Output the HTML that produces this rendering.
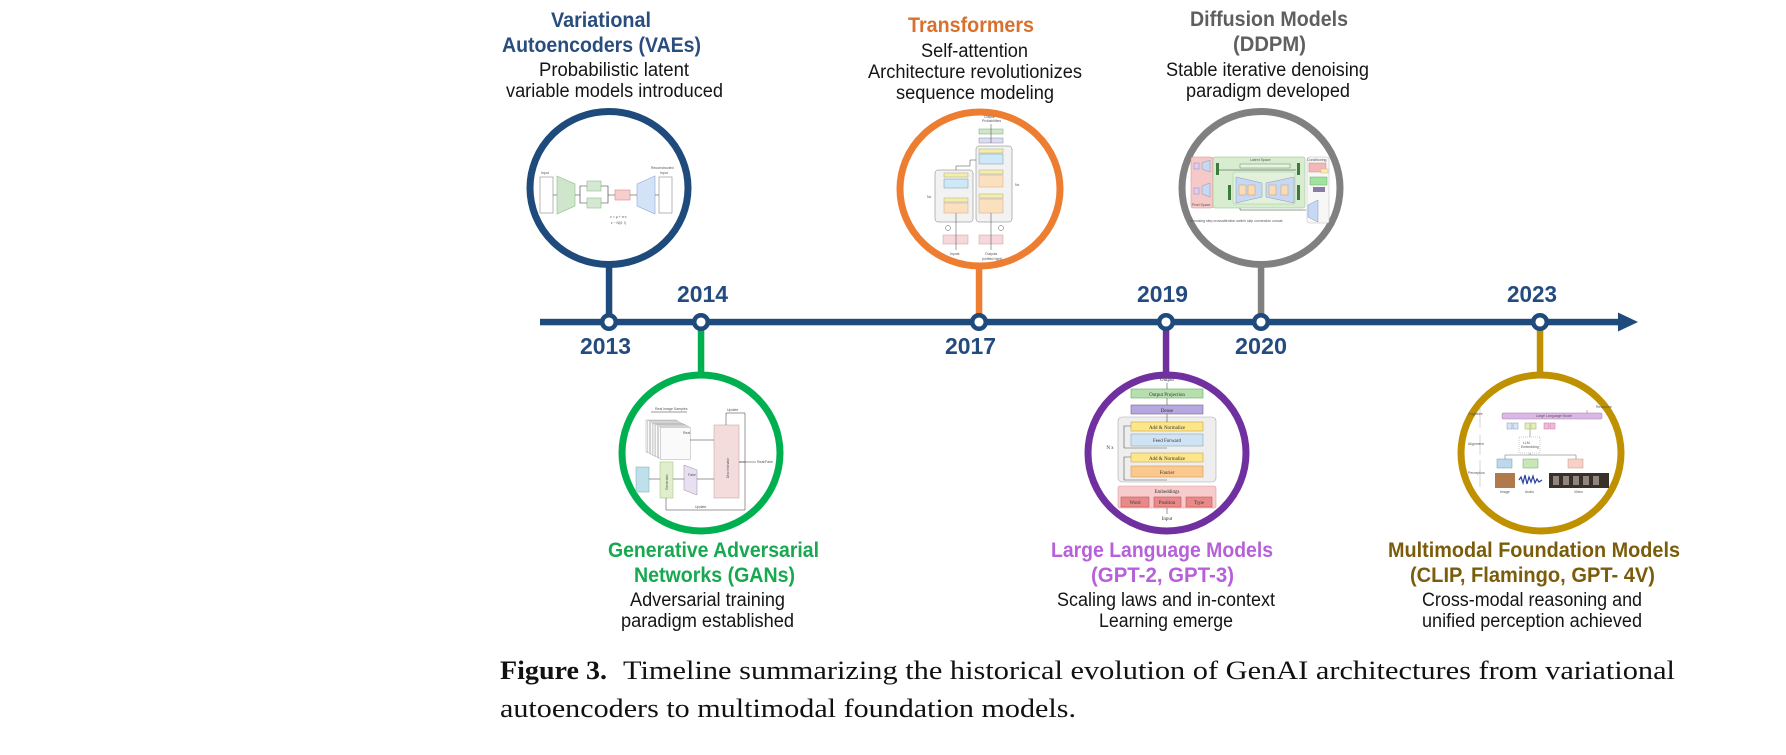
<!DOCTYPE html>
<html><head><meta charset="utf-8">
<style>
html,body{margin:0;padding:0;background:#fff;}
svg{display:block;}
.t{font-family:"Liberation Sans",sans-serif;font-weight:bold;font-size:21px;}
.b{font-family:"Liberation Sans",sans-serif;font-size:19px;fill:#151515;}
.y{font-family:"Liberation Sans",sans-serif;font-weight:bold;font-size:23px;fill:#244b7f;}
.c{font-family:"Liberation Serif",serif;font-size:26px;fill:#111;}
.s{font-family:"Liberation Sans",sans-serif;font-size:3.5px;fill:#555;}
.r{font-family:"Liberation Serif",serif;font-size:5px;fill:#333;text-anchor:middle;}
</style></head><body>
<svg width="1786" height="755" viewBox="0 0 1786 755" xmlns="http://www.w3.org/2000/svg">
<rect width="1786" height="755" fill="#fff"/>

<!-- stems -->
<rect x="605.8" y="255" width="6.5" height="67" fill="#1f4a7c"/>
<rect x="975.8" y="255" width="6.5" height="67" fill="#ed7d31"/>
<rect x="1257.8" y="255" width="6.5" height="67" fill="#808080"/>
<rect x="697.8" y="322" width="6.5" height="60" fill="#00b050"/>
<rect x="1162.8" y="322" width="6.5" height="60" fill="#7030a0"/>
<rect x="1536.8" y="322" width="6.5" height="60" fill="#bf9000"/>

<!-- main timeline -->
<rect x="540" y="318.8" width="1082" height="6.5" fill="#1f4a7c"/>
<polygon points="1618,312.5 1638,322 1618,331.5" fill="#1f4a7c"/>

<!-- circles -->
<ellipse cx="609" cy="188" rx="79" ry="76.5" fill="#fff" stroke="#1f4a7c" stroke-width="7"/>
<ellipse cx="980" cy="189" rx="80" ry="77" fill="#fff" stroke="#ed7d31" stroke-width="7"/>
<ellipse cx="1261" cy="188" rx="79" ry="76.5" fill="#fff" stroke="#808080" stroke-width="7"/>
<ellipse cx="701" cy="453" rx="79" ry="78" fill="#fff" stroke="#00b050" stroke-width="7"/>
<ellipse cx="1167" cy="453" rx="79" ry="78" fill="#fff" stroke="#7030a0" stroke-width="7"/>
<ellipse cx="1541" cy="453" rx="80" ry="78" fill="#fff" stroke="#bf9000" stroke-width="7"/>

<!-- nodes -->
<g fill="#fff" stroke="#1f4a7c" stroke-width="4.5">
<circle cx="609" cy="322" r="6.8"/>
<circle cx="701" cy="322" r="6.8"/>
<circle cx="979" cy="322" r="6.8"/>
<circle cx="1166" cy="322" r="6.8"/>
<circle cx="1261" cy="322" r="6.8"/>
<circle cx="1540" cy="322" r="6.8"/>
</g>

<!-- years -->
<text class="y" x="677" y="302" textLength="51" lengthAdjust="spacingAndGlyphs">2014</text>
<text class="y" x="1137" y="302" textLength="51" lengthAdjust="spacingAndGlyphs">2019</text>
<text class="y" x="1507" y="302" textLength="50" lengthAdjust="spacingAndGlyphs">2023</text>
<text class="y" x="580" y="354" textLength="51" lengthAdjust="spacingAndGlyphs">2013</text>
<text class="y" x="945" y="354" textLength="51" lengthAdjust="spacingAndGlyphs">2017</text>
<text class="y" x="1235" y="354" textLength="52" lengthAdjust="spacingAndGlyphs">2020</text>

<!-- VAE labels -->
<text class="t" fill="#2a4d7f" x="551" y="27" textLength="100" lengthAdjust="spacingAndGlyphs">Variational</text>
<text class="t" fill="#2a4d7f" x="502" y="52" textLength="199" lengthAdjust="spacingAndGlyphs">Autoencoders (VAEs)</text>
<text class="b" x="539" y="76" textLength="150" lengthAdjust="spacingAndGlyphs">Probabilistic latent</text>
<text class="b" x="506" y="97" textLength="217" lengthAdjust="spacingAndGlyphs">variable models introduced</text>

<!-- Transformers labels -->
<text class="t" fill="#d8712e" x="908" y="32" textLength="126" lengthAdjust="spacingAndGlyphs">Transformers</text>
<text class="b" x="921" y="57" textLength="107" lengthAdjust="spacingAndGlyphs">Self-attention</text>
<text class="b" x="868" y="78" textLength="214" lengthAdjust="spacingAndGlyphs">Architecture revolutionizes</text>
<text class="b" x="896" y="99" textLength="158" lengthAdjust="spacingAndGlyphs">sequence modeling</text>

<!-- Diffusion labels -->
<text class="t" fill="#5f5f5f" x="1190" y="26" textLength="158" lengthAdjust="spacingAndGlyphs">Diffusion Models</text>
<text class="t" fill="#5f5f5f" x="1233" y="51" textLength="73" lengthAdjust="spacingAndGlyphs">(DDPM)</text>
<text class="b" x="1166" y="76" textLength="203" lengthAdjust="spacingAndGlyphs">Stable iterative denoising</text>
<text class="b" x="1186" y="97" textLength="164" lengthAdjust="spacingAndGlyphs">paradigm developed</text>

<!-- GAN labels -->
<text class="t" fill="#17a950" x="608" y="557" textLength="211" lengthAdjust="spacingAndGlyphs">Generative Adversarial</text>
<text class="t" fill="#17a950" x="634" y="582" textLength="161" lengthAdjust="spacingAndGlyphs">Networks (GANs)</text>
<text class="b" x="630" y="606" textLength="155" lengthAdjust="spacingAndGlyphs">Adversarial training</text>
<text class="b" x="621" y="627" textLength="173" lengthAdjust="spacingAndGlyphs">paradigm established</text>

<!-- LLM labels -->
<text class="t" fill="#b760d9" x="1051" y="557" textLength="222" lengthAdjust="spacingAndGlyphs">Large Language Models</text>
<text class="t" fill="#b760d9" x="1091" y="582" textLength="143" lengthAdjust="spacingAndGlyphs">(GPT-2, GPT-3)</text>
<text class="b" x="1057" y="606" textLength="218" lengthAdjust="spacingAndGlyphs">Scaling laws and in-context</text>
<text class="b" x="1099" y="627" textLength="134" lengthAdjust="spacingAndGlyphs">Learning emerge</text>

<!-- Multimodal labels -->
<text class="t" fill="#7a5c0a" x="1388" y="557" textLength="292" lengthAdjust="spacingAndGlyphs">Multimodal Foundation Models</text>
<text class="t" fill="#7a5c0a" x="1410" y="582" textLength="245" lengthAdjust="spacingAndGlyphs">(CLIP, Flamingo, GPT- 4V)</text>
<text class="b" x="1422" y="606" textLength="220" lengthAdjust="spacingAndGlyphs">Cross-modal reasoning and</text>
<text class="b" x="1422" y="627" textLength="220" lengthAdjust="spacingAndGlyphs">unified perception achieved</text>

<!-- caption -->
<text class="c" x="500" y="679" font-weight="bold" textLength="107" lengthAdjust="spacingAndGlyphs">Figure 3.</text>
<text class="c" x="623" y="679" textLength="1052" lengthAdjust="spacingAndGlyphs">Timeline summarizing the historical evolution of GenAI architectures from variational</text>
<text class="c" x="500" y="717" textLength="576" lengthAdjust="spacingAndGlyphs">autoencoders to multimodal foundation models.</text>

<!-- VAE inner -->
<g stroke-width="0.6">
<rect x="540" y="177" width="13" height="36" fill="#fff" stroke="#888"/>
<polygon points="557,176 575,184 575,206 557,214" fill="#cfe6cc" stroke="#8cbf87"/>
<rect x="587" y="181" width="14" height="10" fill="#d5e8d4" stroke="#8cbf87"/>
<rect x="587" y="198" width="14" height="10" fill="#d5e8d4" stroke="#8cbf87"/>
<rect x="615" y="190" width="15" height="10" fill="#f8cecc" stroke="#d08a88"/>
<polygon points="637,184 655,176 655,214 637,206" fill="#d4e2f7" stroke="#8fa9d6"/>
<rect x="659" y="177" width="13" height="36" fill="#fff" stroke="#888"/>
<path d="M553 195H557 M575 195H580 V186 H587 M580 195 V203 H587 M601 186 H608 V195 H615 M601 203 H608 V195 M630 195H637 M655 195H659" stroke="#333" fill="none"/>
</g>
<text class="s" x="541" y="174">Input</text>
<text class="s" x="651" y="169">Reconstructed</text>
<text class="s" x="660" y="174">Input</text>
<text class="s" x="610" y="218">z = μ + σ·ε</text>
<text class="s" x="611" y="224">ε ~ N(0, I)</text>

<!-- Transformer inner -->
<g stroke-width="0.5">
<rect x="976" y="146" width="36" height="76" rx="3" fill="#f2f2f2" stroke="#777"/>
<rect x="935" y="170" width="38" height="52" rx="3" fill="#f2f2f2" stroke="#777"/>
<rect x="979" y="129" width="24" height="5" fill="#cfe6cc" stroke="#7a7"/>
<rect x="979" y="138" width="24" height="5" fill="#dcdcf0" stroke="#88a"/>
<rect x="944" y="173" width="24" height="4" fill="#f4eea8" stroke="#aa8"/>
<rect x="944" y="179" width="24" height="9" fill="#cfe8f7" stroke="#79a"/>
<rect x="944" y="198" width="24" height="4" fill="#f4eea8" stroke="#aa8"/>
<rect x="944" y="203" width="24" height="10" fill="#fbe0c0" stroke="#ca8"/>
<rect x="979" y="149" width="24" height="4" fill="#f4eea8" stroke="#aa8"/>
<rect x="979" y="154" width="24" height="10" fill="#cfe8f7" stroke="#79a"/>
<rect x="979" y="170" width="24" height="4" fill="#f4eea8" stroke="#aa8"/>
<rect x="979" y="175" width="24" height="12" fill="#fbe0c0" stroke="#ca8"/>
<rect x="979" y="194" width="24" height="4" fill="#f4eea8" stroke="#aa8"/>
<rect x="979" y="199" width="24" height="14" fill="#fbe0c0" stroke="#ca8"/>
<rect x="943" y="235" width="25" height="9" fill="#f8d7da" stroke="#c99"/>
<rect x="979" y="235" width="24" height="9" fill="#f8d7da" stroke="#c99"/>
<circle cx="948" cy="228" r="2.5" fill="none" stroke="#555"/>
<circle cx="1001" cy="228" r="2.5" fill="none" stroke="#555"/>
<path d="M956 250V213 M991 250V213 M991 143V124 M956 170V166H970V160H976" fill="none" stroke="#444"/>
</g>
<text class="s" x="984" y="118">Output</text>
<text class="s" x="982" y="122">Probabilities</text>
<text class="s" x="927" y="198">Nx</text>
<text class="s" x="1015" y="186">Nx</text>
<text class="s" x="950" y="255">Inputs</text>
<text class="s" x="985" y="255">Outputs</text>
<text class="s" x="982" y="260">(shifted right)</text>

<!-- Diffusion inner -->
<g stroke-width="0.5">
<rect x="1191" y="157" width="22" height="51" rx="2" fill="#f6c9c9" stroke="#d88"/>
<rect x="1213" y="157" width="92" height="51" rx="2" fill="#d8ecd0" stroke="#8b8"/>
<rect x="1307" y="157" width="22" height="66" rx="2" fill="#f7f7f7" stroke="#bbb"/>
<rect x="1194" y="163" width="5" height="6" fill="#dcd0ee" stroke="#98b"/>
<rect x="1194" y="188" width="5" height="6" fill="#dcd0ee" stroke="#98b"/>
<polygon points="1202,163 1210,160 1210,172 1202,169" fill="#c7d8f3" stroke="#89b"/>
<polygon points="1202,186 1210,183 1210,197 1202,194" fill="#c7d8f3" stroke="#89b"/>
<rect x="1216" y="163" width="3" height="12" fill="#3d7a3d"/>
<rect x="1297" y="163" width="3" height="12" fill="#3d7a3d"/>
<rect x="1228" y="185" width="3" height="15" fill="#3d7a3d"/>
<rect x="1297" y="185" width="3" height="15" fill="#3d7a3d"/>
<rect x="1240" y="164" width="50" height="4" fill="#e8f4e2" stroke="#686"/>
<rect x="1233" y="172" width="62" height="32" rx="2" fill="#e3f1dc" stroke="#9c9"/>
<polygon points="1236,177 1262,183 1262,197 1236,203" fill="#c7d8f3" stroke="#89b"/>
<polygon points="1266,183 1294,177 1294,203 1266,197" fill="#c7d8f3" stroke="#89b"/>
<rect x="1239" y="185" width="7" height="10" fill="#f9dcb5" stroke="#c96"/>
<rect x="1248" y="185" width="7" height="10" fill="#f9dcb5" stroke="#c96"/>
<rect x="1269" y="185" width="7" height="10" fill="#f9dcb5" stroke="#c96"/>
<rect x="1281" y="185" width="7" height="10" fill="#f9dcb5" stroke="#c96"/>
<rect x="1309" y="163" width="17" height="9" fill="#f2b8b8" stroke="#c88"/>
<rect x="1321" y="169" width="7" height="4" fill="#f8ecb0" stroke="#cb7"/>
<rect x="1310" y="177" width="17" height="8" fill="#9fe39f" stroke="#6a6"/>
<rect x="1313" y="187" width="12" height="5" fill="#8a7aa8"/>
<polygon points="1308,205 1318,200 1318,222 1308,217" fill="#c7d8f3" stroke="#89b"/>
<path d="M1240 208V210H1306 M1219 170H1296" fill="none" stroke="#333"/>
</g>
<text class="s" x="1250" y="161">Latent Space</text>
<text class="s" x="1192" y="206">Pixel Space</text>
<text class="s" x="1307" y="161">Conditioning</text>
<text class="s" x="1190" y="222">denoising step  crossattention  switch  skip connection  concat</text>

<!-- GAN inner -->
<g stroke-width="0.4" fill="#fafafa" stroke="#999">
<rect x="646" y="420" width="30" height="32"/>
<rect x="647.6" y="420.8" width="30" height="32"/>
<rect x="649.2" y="421.6" width="30" height="32"/>
<rect x="650.8" y="422.4" width="30" height="32"/>
<rect x="652.4" y="423.2" width="30" height="32"/>
<rect x="654" y="424" width="30" height="32"/>
<rect x="655.6" y="424.8" width="30" height="32"/>
<rect x="657.2" y="425.6" width="30" height="32"/>
<rect x="658.8" y="426.4" width="30" height="32"/>
<rect x="660.4" y="427.2" width="30" height="32"/>
</g>
<g stroke-width="0.5">
<rect x="714" y="425" width="25" height="73" fill="#f4dcdc" stroke="#b99"/>
<rect x="636" y="467" width="13" height="25" fill="#bfe0ea" stroke="#7aa"/>
<rect x="660" y="462" width="13" height="36" fill="#dfeecb" stroke="#9b7"/>
<polygon points="684,465 697,470 697,495 684,490" fill="#e8e0f0" stroke="#98a"/>
<path d="M690 440H714 M649 479H660 M673 479H684 M697 479H714 M739 462H756 M739 462H745V413H726V425 M745 462V510H666V498 M651 412H687" fill="none" stroke="#333"/>
</g>
<text class="s" x="655" y="410">Real Image Samples</text>
<text class="s" x="683" y="434">Real</text>
<text class="s" x="688" y="476">Fake</text>
<text class="s" x="757" y="463">Real/Fake</text>
<text class="s" x="727" y="411">Update</text>
<text class="s" x="695" y="508">Update</text>
<text class="s" transform="translate(729,478) rotate(-90)">Discriminator</text>
<text class="s" transform="translate(668,490) rotate(-90)">Generator</text>

<!-- LLM inner -->
<g stroke-width="0.6">
<rect x="1118" y="417" width="98" height="65" rx="4" fill="#eeeeee" stroke="#aaa"/>
<rect x="1118" y="486" width="98" height="22" rx="2" fill="#f6cccc" stroke="#d99"/>
<rect x="1131" y="389" width="72" height="9" fill="#b7dfae" stroke="#6a6"/>
<rect x="1131" y="405" width="72" height="9" fill="#b5a8e0" stroke="#768"/>
<rect x="1131" y="422" width="72" height="9" fill="#fde58a" stroke="#c9a84a"/>
<rect x="1131" y="434" width="72" height="12" fill="#cfe3f5" stroke="#8aa"/>
<rect x="1131" y="453" width="72" height="9" fill="#fde58a" stroke="#c9a84a"/>
<rect x="1131" y="466" width="72" height="11" fill="#fbc88e" stroke="#d39a5a"/>
<rect x="1121" y="497" width="28" height="10" fill="#e98a8a" stroke="#c55"/>
<rect x="1154" y="497" width="27" height="10" fill="#e98a8a" stroke="#c55"/>
<rect x="1186" y="497" width="26" height="10" fill="#e98a8a" stroke="#c55"/>
<path d="M1167 383V389 M1167 398V405 M1167 414V422 M1167 508V514 M1131 426H1124V448H1167 M1131 457H1124V480H1167" fill="none" stroke="#555"/>
</g>
<text class="r" x="1167" y="381">Output</text>
<text class="r" x="1167" y="396">Output Projection</text>
<text class="r" x="1167" y="412">Dense</text>
<text class="r" x="1167" y="429">Add &amp; Normalize</text>
<text class="r" x="1167" y="442">Feed Forward</text>
<text class="r" x="1167" y="460">Add &amp; Normalize</text>
<text class="r" x="1167" y="474">Fourier</text>
<text class="r" x="1167" y="493">Embeddings</text>
<text class="r" x="1135" y="504">Word</text>
<text class="r" x="1167" y="504">Position</text>
<text class="r" x="1199" y="504">Type</text>
<text class="r" x="1167" y="520">Input</text>
<text class="r" x="1110" y="449">N x</text>

<!-- Multimodal inner -->
<g stroke-width="0.5">
<rect x="1502" y="413" width="100" height="6" rx="1" fill="#d9b8e6" stroke="#a7a"/>
<rect x="1507" y="423" width="5" height="6" fill="#d6e4f5" stroke="#89b"/>
<rect x="1513" y="423" width="5" height="6" fill="#d6e4f5" stroke="#89b"/>
<rect x="1525" y="423" width="5" height="6" fill="#e5f0b8" stroke="#9a6"/>
<rect x="1531" y="423" width="5" height="6" fill="#e5f0b8" stroke="#9a6"/>
<rect x="1544" y="423" width="5" height="6" fill="#f3b9dc" stroke="#b79"/>
<rect x="1550" y="423" width="5" height="6" fill="#f3b9dc" stroke="#b79"/>
<rect x="1519" y="437" width="21" height="16" fill="#fff" stroke="#999" stroke-dasharray="1,1"/>
<rect x="1497" y="459" width="15" height="9" fill="#bcd7f0" stroke="#79a"/>
<rect x="1523" y="459" width="15" height="9" fill="#c9e6b6" stroke="#7a6"/>
<rect x="1568" y="459" width="15" height="9" fill="#f8d0c6" stroke="#c98"/>
<rect x="1495" y="473" width="20" height="15" fill="#b07a4a"/>
<rect x="1549" y="473" width="60" height="15" fill="#3a302a"/>
<path d="M1519 480l2 -3l2 6l2 -8l2 9l2 -7l2 5l2 -6l2 7l2 -4l2 3l3 -2" fill="none" stroke="#2a3f9a" stroke-width="1.2"/>
<path d="M1505 459V455H1576V459 M1530 453V455 M1530 429V437 M1587 410V413" fill="none" stroke="#666"/>
<path d="M1480 405V428 M1480 435V455 M1480 460V487" fill="none" stroke="#aaa"/>
</g>
<g fill="#c9c0b8" opacity="0.6">
<rect x="1553" y="476" width="6" height="9"/><rect x="1563" y="476" width="6" height="9"/><rect x="1573" y="476" width="6" height="9"/><rect x="1583" y="476" width="6" height="9"/><rect x="1593" y="476" width="6" height="9"/>
</g>
<text class="s" x="1536" y="417">Large Language Model</text>
<text class="s" x="1596" y="408">Response</text>
<text class="s" x="1523" y="444">LLM</text>
<text class="s" x="1521" y="448">Embedding</text>
<text class="s" x="1468" y="415">Cognitive</text>
<text class="s" x="1468" y="445">Alignment</text>
<text class="s" x="1468" y="474">Perception</text>
<text class="s" x="1500" y="493">Image</text>
<text class="s" x="1525" y="493">Audio</text>
<text class="s" x="1574" y="493">Video</text>
</svg>
</body></html>
